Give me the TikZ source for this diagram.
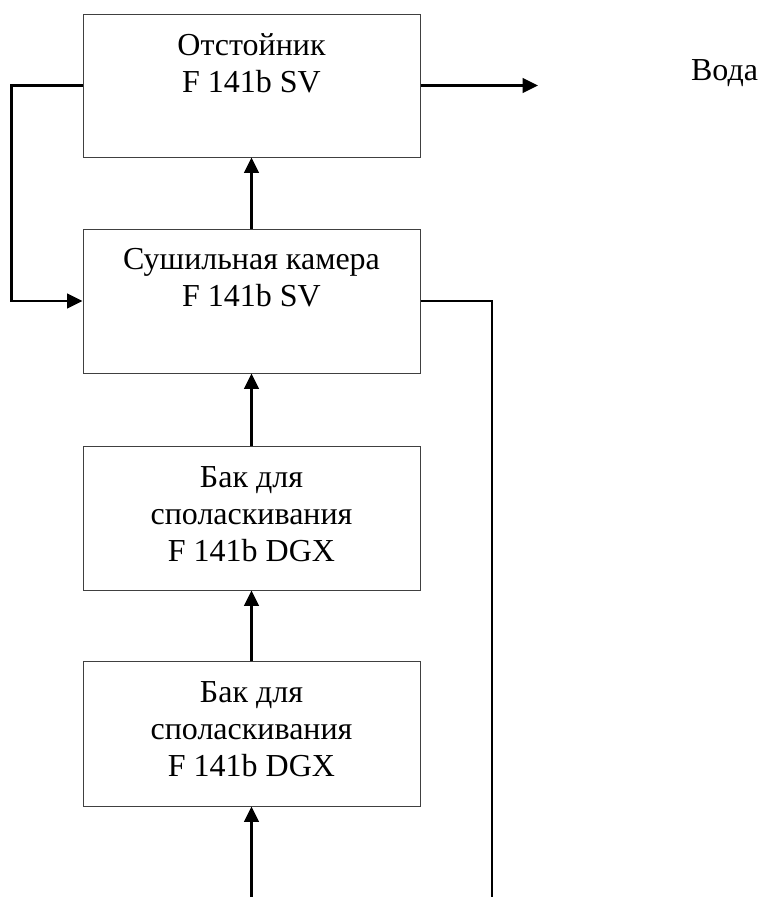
\documentclass[tikz,border=0pt]{standalone}
\usepackage{fontspec}
\setmainfont{Liberation Serif}
\usetikzlibrary{arrows.meta}
\begin{document}
\begin{tikzpicture}[x=0.75pt, y=-0.75pt,
    unit/.style={draw=black!75, line width=0.75pt, minimum width=252.75pt, minimum height=108pt, inner sep=0pt},
    caption/.style={anchor=north, align=center, inner sep=0pt, font=\fontsize{24}{27.75}\selectfont},
    flow/.style={line width=1.6pt, -{Triangle[length=11.5pt, width=11pt]}},
    pipe/.style={line width=1.6pt}]
    \useasboundingbox (0,0) rectangle (761,897);

    % Blocks of the installation
    \node[unit, minimum height=107.25pt] (settler) at (251.5,85.5) {};
    \node[unit] (dryer) at (251.5,301) {};
    \node[unit] (rinseA) at (251.5,518) {};
    \node[unit, minimum height=108.75pt] (rinseB) at (251.5,733.5) {};

    % Texts inside the blocks
    \node[caption] (settlerText) at ([yshift=-14.5pt]settler.north) {Отстойник\\F 141b SV};
    \node[caption] (dryerText) at ([yshift=-14.5pt]dryer.north) {Сушильная камера\\F 141b SV};
    \node[caption] (rinseAText) at ([yshift=-15.5pt]rinseA.north) {Бак для\\споласкивания\\F 141b DGX};
    \node[caption] (rinseBText) at ([yshift=-15.5pt]rinseB.north) {Бак для\\споласкивания\\F 141b DGX};

    % Free ends of the lines
    \coordinate (feed) at (251.5,897);
    \coordinate (drain) at (492,897);
    \coordinate (waterOut) at (538,85.5);
    \node[caption, anchor=center] (water) at (724.5,73) {Вода};

    % Flow upwards
    \draw[flow] (feed) -- (rinseB.south);
    \draw[flow] (rinseB.north) -- (rinseA.south);
    \draw[flow] (rinseA.north) -- (dryer.south);
    \draw[flow] (dryer.north) -- (settler.south);

    % Return loop, water outlet and drain
    \draw[flow] (settler.west) -- ++(-71,0) |- (dryer.west);
    \draw[flow] (settler.east) -- (waterOut);
    \draw[pipe] (dryer.east) -| (drain);
\end{tikzpicture}
\end{document}
